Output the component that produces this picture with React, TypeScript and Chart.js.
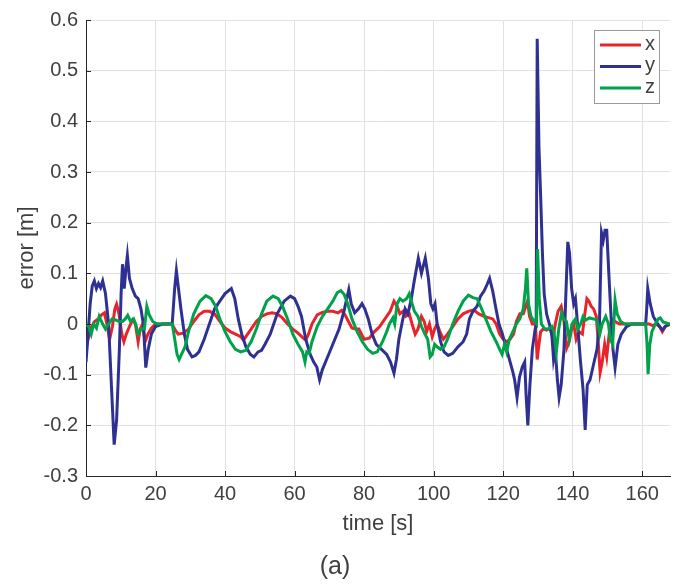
import React, { useEffect, useRef } from "react";
import { Chart, registerables } from "chart.js";

Chart.register(...registerables);

const seriesLabels = ["x", "y", "z"];
const seriesColors = ["#e8242b", "#2e3192", "#00a14b"];

const xTimes = [0,0.8,1.6,2.5,3.5,4.5,5.3,6,6.8,7.6,8.3,8.8,9.5,10.3,10.9,11.6,12.5,13.4,14.2,15,15.6,16.3,17,17.8,18.8,20,24.8,25.5,26.5,28,29.5,31,32.5,34,35.5,37,38.5,40,41.5,43,44.5,45.3,46,47.5,49,50.5,52,53.5,55,56.5,58,59.5,61,62.5,63.2,64,65,66.5,68,69.5,71,72.5,73.5,74.5,75.5,76.5,77.5,78.5,80,81.5,83,84.5,86,87.5,88.6,89.5,90.3,91.2,92,93,93.8,94.7,95.5,96.5,97.3,98,98.8,99.6,100.3,101,101.8,102.8,104,105.5,107,108.5,110,111.5,113,114.5,116,117,118,119,120,121,122,123,123.8,124.8,125.8,126.5,127,127.6,128.4,129.3,129.8,130.3,130.8,131.5,132.5,133.5,134.3,135,135.8,136.7,137.5,138.3,139,139.7,140.3,141,141.8,142.8,143.5,144.1,144.7,145.3,146,146.8,147.3,147.9,148.5,149.2,149.8,150.5,151.2,152.2,153.5,162,163,164,165,165.8,166.6,168];
const xErr = [-0.045,-0.025,-0.005,0.005,0.01,0.018,0.022,0,-0.03,-0.005,0.03,0.039,0.02,-0.02,-0.035,-0.02,-0.005,0.008,0,-0.035,-0.01,0,-0.035,-0.02,-0.008,0,0,-0.01,-0.02,-0.018,-0.01,0.005,0.018,0.025,0.025,0.02,0.005,-0.008,-0.015,-0.02,-0.025,-0.032,-0.025,-0.01,0.005,0.015,0.02,0.022,0.02,0.012,0,-0.01,-0.018,-0.028,-0.032,-0.02,0,0.018,0.023,0.025,0.025,0.022,0.027,0.018,0.005,-0.008,-0.01,-0.01,-0.03,-0.028,-0.015,-0.005,0.01,0.025,0.045,0.035,0.02,0.025,0.015,0.02,0,-0.02,-0.01,0.015,0.005,-0.015,0,-0.025,-0.01,0,-0.015,-0.03,-0.02,-0.005,0.01,0.02,0.025,0.028,0.02,0.015,0.012,0.01,0,-0.02,-0.03,-0.035,-0.03,-0.02,0.005,0.02,0.02,0.035,0.045,0.015,0,0,-0.07,-0.04,-0.015,-0.01,-0.012,-0.008,-0.03,0,0.025,0.035,0.005,-0.047,-0.035,-0.01,0,-0.03,-0.015,-0.02,0.02,0.05,0.045,0.035,0.03,0.015,-0.03,-0.096,-0.075,-0.04,-0.065,-0.02,0.01,0.005,0,0,-0.003,0,-0.005,-0.015,-0.005,0];

const yTimes = [0,0.5,1.2,1.8,2.4,3,3.6,4.2,4.8,5.6,6.5,7.3,8.1,8.8,9.6,10.1,10.5,11,11.5,11.9,12.5,13.3,14.2,15,15.8,16.5,17.2,17.9,18.8,20,22,24.8,25.5,26,26.6,27.3,28.3,29.2,30.5,31.5,32.5,34,35.5,37,38.5,40,41.8,42.8,43.8,44.8,46,47.3,48.3,49.5,50.5,51.5,53,55,57,58.8,60,61,62,63.2,64.5,65.5,66.4,67.2,68,69.2,71,72.8,74.2,75.6,76.3,77.3,78.4,79.4,80.2,81.2,82.3,83.5,85,86.5,87.6,88.6,89.3,90,91,91.8,92.6,93.6,94.3,95.6,96.5,97.6,98.5,99.2,99.8,100.4,101,102,103,104.2,105.5,107,108.5,109.5,110.3,111.3,112.5,113.5,114.5,115.2,116.1,117,117.8,118.8,119.8,120.8,121.8,122.8,123.3,124,124.7,125.5,126.2,126.6,127.1,127.7,128.4,129.2,129.5,129.8,130.3,130.8,131.3,131.8,132.5,133.3,134,134.5,135,135.6,136.1,136.7,137.5,138,138.6,139.1,139.7,140.3,140.8,141.4,142.2,143,143.6,144.2,145,146,147,147.7,148.3,148.8,149.3,149.8,150.4,151,151.6,152.2,153,154,155.5,157,161,161.3,161.6,162.3,163.2,164.2,165,165.8,166.6,168];
const yErr = [-0.076,-0.03,0.04,0.075,0.085,0.07,0.08,0.072,0.085,0.06,0,-0.12,-0.238,-0.19,-0.05,0.06,0.118,0.07,0.11,0.135,0.09,0.07,0.055,0.05,0.03,0,-0.086,-0.05,-0.02,-0.005,0,0,0.07,0.105,0.07,0.03,-0.02,-0.05,-0.065,-0.062,-0.055,-0.03,0,0.03,0.045,0.06,0.07,0.05,0.01,-0.02,-0.045,-0.06,-0.065,-0.055,-0.052,-0.04,-0.02,0.02,0.045,0.055,0.05,0.035,0.015,-0.03,-0.06,-0.075,-0.085,-0.11,-0.09,-0.07,-0.04,-0.01,0.025,0.068,0.04,0.022,0.03,0.04,0.03,0.01,-0.02,-0.04,-0.05,-0.06,-0.075,-0.097,-0.07,-0.03,0.005,0.03,0.02,0.05,0.08,0.13,0.1,0.13,0.09,0.04,0.03,0.04,0,-0.035,-0.055,-0.062,-0.058,-0.045,-0.035,-0.02,0.01,0.025,0.035,0.055,0.065,0.075,0.09,0.065,0.035,0,-0.02,-0.045,-0.07,-0.095,-0.11,-0.145,-0.105,-0.085,-0.075,-0.14,-0.2,-0.12,-0.05,-0.01,-0.005,0.563,0.35,0.25,0.14,0.06,0.02,0,-0.02,-0.07,-0.05,-0.11,-0.145,-0.12,-0.05,0.05,0.162,0.14,0.07,0.04,0.05,0,-0.07,-0.13,-0.209,-0.12,-0.11,-0.08,-0.05,0,0.18,0.165,0.185,0.185,0.1,0.02,-0.05,-0.086,-0.04,-0.02,-0.005,0,0,0.03,0.07,0.04,0.015,0.003,-0.005,-0.012,-0.005,0];

const zTimes = [0,0.8,1.5,2.2,3,3.8,4.8,5.6,6.5,7.5,8.5,9.5,10.5,11.3,12,12.8,13.7,14.3,15,15.8,16.8,17.5,18.2,19.2,20.5,24.8,25.3,26.2,26.8,27.6,28.5,29.5,31,32.8,34.5,36,37.3,38.5,40,41.5,43,44.5,46,47.5,49,50.5,52,53.8,55.3,56.5,58,59.5,61,62.3,63,63.5,64.2,65,66.5,68,69.5,71,72.3,73.3,74.3,75.3,76.5,78,79.5,81,82.5,83.8,85.3,86.5,87.3,88.3,88.8,89.5,90.3,91.2,92.2,93,93.8,94.5,95.5,96.5,97.5,98.3,99,99.6,100.3,101,102,103,104,105.5,107,108.5,110,111.3,112.5,113.5,115,116.5,118,119,119.7,120.4,121,121.8,122.8,123.8,124.8,125.8,126.4,126.8,127.3,128,129,129.6,129.9,130.4,131,132,133,134,134.6,135.3,136,136.8,137.5,138.2,139,139.8,140.8,141.5,142.3,143,143.8,144.8,146,147,147.8,148.5,149.5,150.3,150.8,151.5,152.2,152.8,153.8,155,161,161.4,161.7,162.2,162.8,163.8,164.6,165.2,166,167,168];
const zErr = [0,-0.005,-0.02,0,-0.008,0.015,0,-0.01,0,0.01,0.008,0.005,0.005,0.01,0.017,0.005,0.01,0,-0.02,-0.01,-0.01,0.035,0.018,0.005,0,0,-0.02,-0.06,-0.07,-0.058,-0.045,-0.015,0.02,0.045,0.056,0.05,0.035,0.01,-0.015,-0.035,-0.05,-0.055,-0.052,-0.035,-0.01,0.02,0.045,0.055,0.05,0.035,0.01,-0.02,-0.04,-0.055,-0.075,-0.055,-0.058,-0.035,-0.005,0.015,0.03,0.045,0.062,0.066,0.058,0.04,0.01,-0.015,-0.035,-0.05,-0.058,-0.055,-0.035,-0.015,0,0.012,0,0.04,0.05,0.045,0.05,0.06,0.04,0.025,0.015,-0.005,-0.02,-0.03,-0.065,-0.06,-0.04,-0.045,-0.05,-0.045,-0.03,0,0.025,0.045,0.057,0.052,0.05,0.035,0.01,-0.015,-0.035,-0.05,-0.06,-0.04,-0.055,-0.03,-0.015,0,0.01,0.03,0.07,0.11,0.04,0.015,0.005,0,0.148,0.05,0,-0.01,-0.01,-0.005,-0.015,-0.055,-0.01,0.022,0.01,0.005,-0.03,0,0.01,-0.01,0,0.015,0.008,0.012,0.01,0.008,-0.02,0,0.015,0,-0.03,-0.04,0.047,0.02,0.005,0,0,-0.04,-0.099,-0.04,-0.015,0,0.01,0.012,0.004,0.002,0];

const xTickValues = [0, 20, 40, 60, 80, 100, 120, 140, 160];
const yTickValues = [-0.3, -0.2, -0.1, 0, 0.1, 0.2, 0.3, 0.4, 0.5, 0.6];

const seriesTimes = [xTimes, yTimes, zTimes];
const seriesErrs = [xErr, yErr, zErr];

const FONT = "'Liberation Sans', Arial, Helvetica, sans-serif";
const TEXT = "#3f3f3f";

const innerTicks = {
  id: "innerTicks",
  afterDatasetsDraw(chart: any) {
    const { ctx, chartArea, scales } = chart;
    ctx.save();
    ctx.strokeStyle = "#262626";
    ctx.lineWidth = 1;
    ctx.beginPath();
    xTickValues.forEach((v) => {
      const px = Math.round(scales.x.getPixelForValue(v)) + 0.5;
      ctx.moveTo(px, chartArea.bottom);
      ctx.lineTo(px, chartArea.bottom - 5);
    });
    yTickValues.forEach((v) => {
      const py = Math.round(scales.y.getPixelForValue(v)) + 0.5;
      ctx.moveTo(chartArea.left, py);
      ctx.lineTo(chartArea.left + 5, py);
    });
    ctx.stroke();
    ctx.restore();
  },
};

const insideLegend = {
  id: "insideLegend",
  afterDraw(chart: any) {
    const { ctx, chartArea } = chart;
    const w = 65;
    const h = 73;
    const bx = chartArea.right - 11 - w;
    const by = chartArea.top + 10;
    ctx.save();
    ctx.fillStyle = "#ffffff";
    ctx.fillRect(bx + 0.5, by + 0.5, w, h);
    ctx.strokeStyle = "#9a9a9a";
    ctx.lineWidth = 1;
    ctx.strokeRect(bx + 0.5, by + 0.5, w, h);
    ctx.font = `20px ${FONT}`;
    ctx.textBaseline = "middle";
    ctx.textAlign = "left";
    chart.data.datasets.forEach((ds: any, i: number) => {
      const ly = by + 15 + i * 21.5;
      ctx.strokeStyle = ds.borderColor;
      ctx.lineWidth = 3;
      ctx.beginPath();
      ctx.moveTo(bx + 6, ly);
      ctx.lineTo(bx + 47, ly);
      ctx.stroke();
      ctx.fillStyle = TEXT;
      ctx.fillText(ds.label, bx + 51, ly - 1);
    });
    ctx.restore();
  },
};

export default function App() {
  const ref = useRef<HTMLCanvasElement>(null);
  useEffect(() => {
    document.body.style.margin = "0";
    const datasets = seriesLabels.map((label, i) => ({
      label,
      data: seriesTimes[i].map((t, k) => ({ x: t, y: seriesErrs[i][k] })),
      borderColor: seriesColors[i],
      backgroundColor: seriesColors[i],
      borderWidth: 3,
      pointRadius: 0,
      tension: 0,
      fill: false,
      order: 2 - i,
    }));
    const chart = new Chart(ref.current!, {
      type: "line",
      data: { datasets },
      plugins: [innerTicks, insideLegend],
      options: {
        animation: false,
        responsive: false,
        layout: { padding: { top: 14, right: 16, left: 0, bottom: 0 } },
        plugins: {
          legend: { display: false },
          tooltip: { enabled: false },
          title: {
            display: true,
            position: "bottom",
            text: "(a)",
            color: TEXT,
            font: { family: FONT, size: 25, weight: "normal" },
            padding: { top: 0, bottom: 4 },
          },
        },
        scales: {
          x: {
            type: "linear",
            min: 0,
            max: 168,
            afterFit: (s: any) => {
              s.height = 76;
            },
            ticks: {
              stepSize: 20,
              includeBounds: false,
              color: TEXT,
              padding: 6,
              maxRotation: 0,
              font: { family: FONT, size: 20 },
            },
            grid: { color: "#e2e2e2", lineWidth: 1, drawTicks: false },
            border: { display: true, color: "#262626", width: 1 },
            title: {
              display: true,
              text: "time [s]",
              color: TEXT,
              font: { family: FONT, size: 22 },
              padding: { top: 0, bottom: 15 },
            },
          },
          y: {
            type: "linear",
            min: -0.3,
            max: 0.6,
            afterFit: (s: any) => {
              s.width = 86;
            },
            ticks: {
              stepSize: 0.1,
              color: TEXT,
              padding: 8,
              font: { family: FONT, size: 20 },
              callback: (v: any) => (Math.round(Number(v) * 10) / 10).toString(),
            },
            grid: { color: "#e2e2e2", lineWidth: 1, drawTicks: false },
            border: { display: true, color: "#262626", width: 1 },
            title: {
              display: true,
              text: "error [m]",
              color: TEXT,
              font: { family: FONT, size: 22 },
              padding: { top: 14, bottom: 0 },
            },
          },
        },
      },
    });
    return () => chart.destroy();
  }, []);
  return (
    <div style={{ position: "absolute", left: 0, top: 0, width: 686, height: 586, background: "#fff" }}>
      <canvas ref={ref} width={686} height={586} />
    </div>
  );
}
